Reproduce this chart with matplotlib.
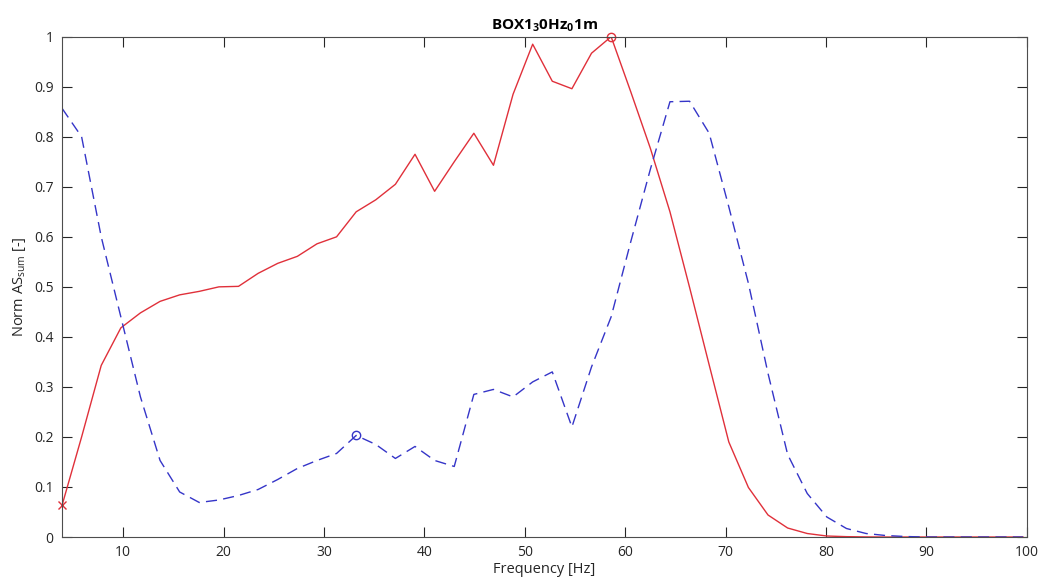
import matplotlib
matplotlib.use('Agg')
import matplotlib.pyplot as plt

plt.rcParams['font.family'] = ['Open Sans', 'DejaVu Sans']
plt.rcParams['mathtext.fontset'] = 'custom'
plt.rcParams['mathtext.rm'] = 'Open Sans'
plt.rcParams['mathtext.bf'] = 'Open Sans:bold'

# FFT bin frequencies [Hz]
freq = [3.906, 5.859, 7.813, 9.766, 11.719, 13.672, 15.625, 17.578, 19.531, 21.484,
        23.438, 25.391, 27.344, 29.297, 31.250, 33.203, 35.156, 37.109, 39.063, 41.016,
        42.969, 44.922, 46.875, 48.828, 50.781, 52.734, 54.688, 56.641, 58.594, 60.547,
        62.500, 64.453, 66.406, 68.359, 70.313, 72.266, 74.219, 76.172, 78.125, 80.078,
        82.031, 83.984, 85.938, 87.891, 89.844, 91.797, 93.750, 95.703, 97.656, 99.609]

# normalised AS sum, solid red curve
as_red = [0.063, 0.200, 0.343, 0.418, 0.448, 0.471, 0.484, 0.491, 0.500, 0.501,
          0.527, 0.547, 0.561, 0.586, 0.600, 0.650, 0.674, 0.705, 0.765, 0.691,
          0.750, 0.807, 0.743, 0.885, 0.985, 0.911, 0.896, 0.967, 1.000, 0.890,
          0.777, 0.650, 0.499, 0.344, 0.190, 0.099, 0.044, 0.018, 0.007, 0.002,
          0.0007, 0.0002, 0.0, 0.0, 0.0, 0.0, 0.0, 0.0, 0.0, 0.0]

# normalised AS sum, dashed blue curve
as_blue = [0.857, 0.800, 0.600, 0.440, 0.280, 0.153, 0.090, 0.069, 0.074, 0.083,
           0.095, 0.115, 0.137, 0.153, 0.167, 0.203, 0.185, 0.157, 0.181, 0.153,
           0.141, 0.285, 0.295, 0.280, 0.310, 0.330, 0.220, 0.340, 0.440, 0.590,
           0.735, 0.870, 0.871, 0.807, 0.660, 0.507, 0.327, 0.165, 0.087, 0.040,
           0.017, 0.007, 0.003, 0.001, 0.0, 0.0, 0.0, 0.0, 0.0, 0.0]

RED = '#e0303a'
BLUE = '#3535c8'

fig = plt.figure(figsize=(10.42, 5.77), dpi=100)
ax = fig.add_axes([0.0595, 0.0693, 0.926, 0.8671])

ax.plot(freq, as_red, '-', color=RED, lw=1.0)
ax.plot(freq, as_blue, '--', color=BLUE, lw=1.0, dashes=(8, 4.5))

# markers: start point and maxima
ax.plot(freq[0], as_red[0], 'x', color=RED, ms=6, mew=1.0, clip_on=False)
i_max = as_red.index(max(as_red))
ax.plot(freq[i_max], as_red[i_max], 'o', color=RED, ms=6, mfc='none', mew=1.0, clip_on=False)
ax.plot(freq[15], as_blue[15], 'o', color=BLUE, ms=6, mfc='none', mew=1.0, clip_on=False)

ax.set_xlim(freq[0], 100)
ax.set_ylim(0, 1)
ax.set_xticks(range(10, 101, 10))
ax.set_yticks([i / 10 for i in range(11)])
ax.set_yticklabels(['0', '0.1', '0.2', '0.3', '0.4', '0.5', '0.6', '0.7', '0.8', '0.9', '1'])

ax.tick_params(direction='in', length=7, width=0.8, colors='#262626',
               top=True, right=True, labelsize=10, pad=6)
for s in ax.spines.values():
    s.set_color('#4d4d4d')
    s.set_linewidth(0.8)

ax.set_xlabel('Frequency [Hz]', fontsize=10.5, color='#262626', labelpad=1)
ax.set_ylabel(r'Norm AS$_{\mathrm{sum}}$ [-]', fontsize=10.5, color='#262626', labelpad=4)
ax.set_title(r'BOX1$_{\mathbf{3}}$0Hz$_{\mathbf{0}}$1m', fontsize=11, fontweight='bold',
             color='black', pad=5)

fig.savefig('out.png', dpi=100)
